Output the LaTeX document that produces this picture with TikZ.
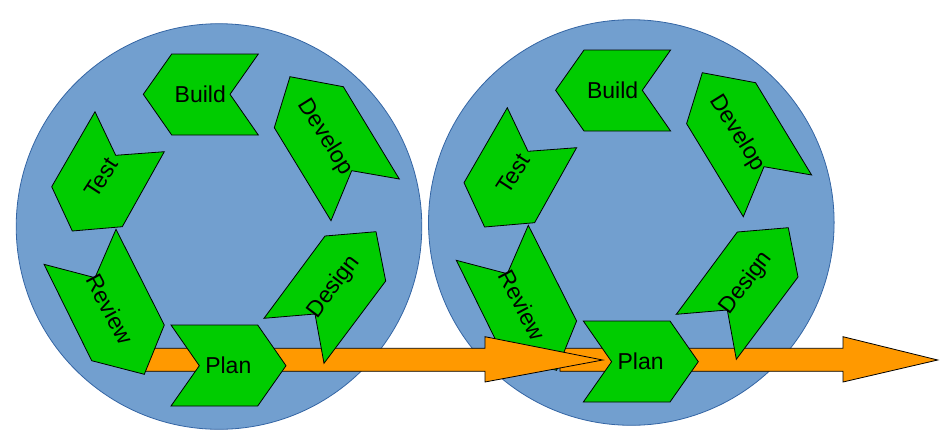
\documentclass[tikz,border=0pt]{standalone}
\usepackage{fontspec}
\setmainfont{Liberation Sans}
\definecolor{ringblue}{HTML}{729FCF}
\definecolor{ringline}{HTML}{3465A4}
\definecolor{stepgreen}{HTML}{00CC00}
\definecolor{flow}{HTML}{FF9900}

\begin{document}
\begin{tikzpicture}[x=1pt, y=-1pt,
    chev/.style={fill=stepgreen, draw=black, line width=0.8pt},
    flowarrow/.style={fill=flow, draw=black, line width=0.8pt},
    lbl/.style={font=\fontsize{23}{28}\selectfont, inner sep=0pt}]
    \useasboundingbox (0,0) rectangle (952,442);

    \foreach \dx/\dy in {0/0, 412.3/-4} {
        \fill[ringblue, draw=ringline, line width=0.8pt] (219+\dx, 226.5+\dy) circle (202.8pt);
    }

    % second cycle first, so the first arrow lies over it
    \foreach \dx/\dy/\c/\xa/\xb/\xc in {412.3/-4/2/560/843/937.7, 0/0/1/142/485/602.7} {
        \draw[flowarrow] (\xa,348.3) -- (\xb,348.3) -- (\xb,336.7) -- (\xc,360)
            -- (\xb,382) -- (\xb,371.3) -- (\xa,371.3) -- cycle;
        \begin{scope}[shift={(\dx,\dy)}]
            \draw[chev] (143.3,94.3) -- (171.7,54) -- (258.3,54) -- (230,94.3) -- (258.3,135) -- (171.7,135) -- cycle;
            \node[lbl] (build\c) at (200.3,94.3) {Build};

            \draw[chev] (290,76.7) -- (343.3,86.7) -- (399.3,179) -- (351.7,170.7) -- (331,220.7) -- (274.3,127.7) -- cycle;
            \node[lbl, rotate=-58] (develop\c) at (325,137) {Develop};

            \draw[chev] (264,318.3) -- (325,236) -- (376,231.7) -- (385.7,281) -- (324,363.3) -- (315,314) -- cycle;
            \node[lbl, rotate=53] (design\c) at (334,287) {Design};

            \draw[chev] (95,111.7) -- (115.7,155.3) -- (164.3,151.7) -- (122.3,226.7) -- (72.3,231) -- (51.7,186.7) -- cycle;
            \node[lbl, rotate=57] (test\c) at (101,178) {Test};

            \draw[chev] (44,264.3) -- (95,277.7) -- (116,229.3) -- (164.3,325) -- (144.3,374.3) -- (91.7,360.7) -- cycle;
            \node[lbl, rotate=-62] (review\c) at (110,309) {Review};

            \draw[chev] (171,325) -- (257.7,325) -- (286,365.7) -- (257.7,406) -- (171,406) -- (199.3,365.7) -- cycle;
            \node[lbl] (plan\c) at (228.3,365.7) {Plan};
        \end{scope}
    }
\end{tikzpicture}
\end{document}
